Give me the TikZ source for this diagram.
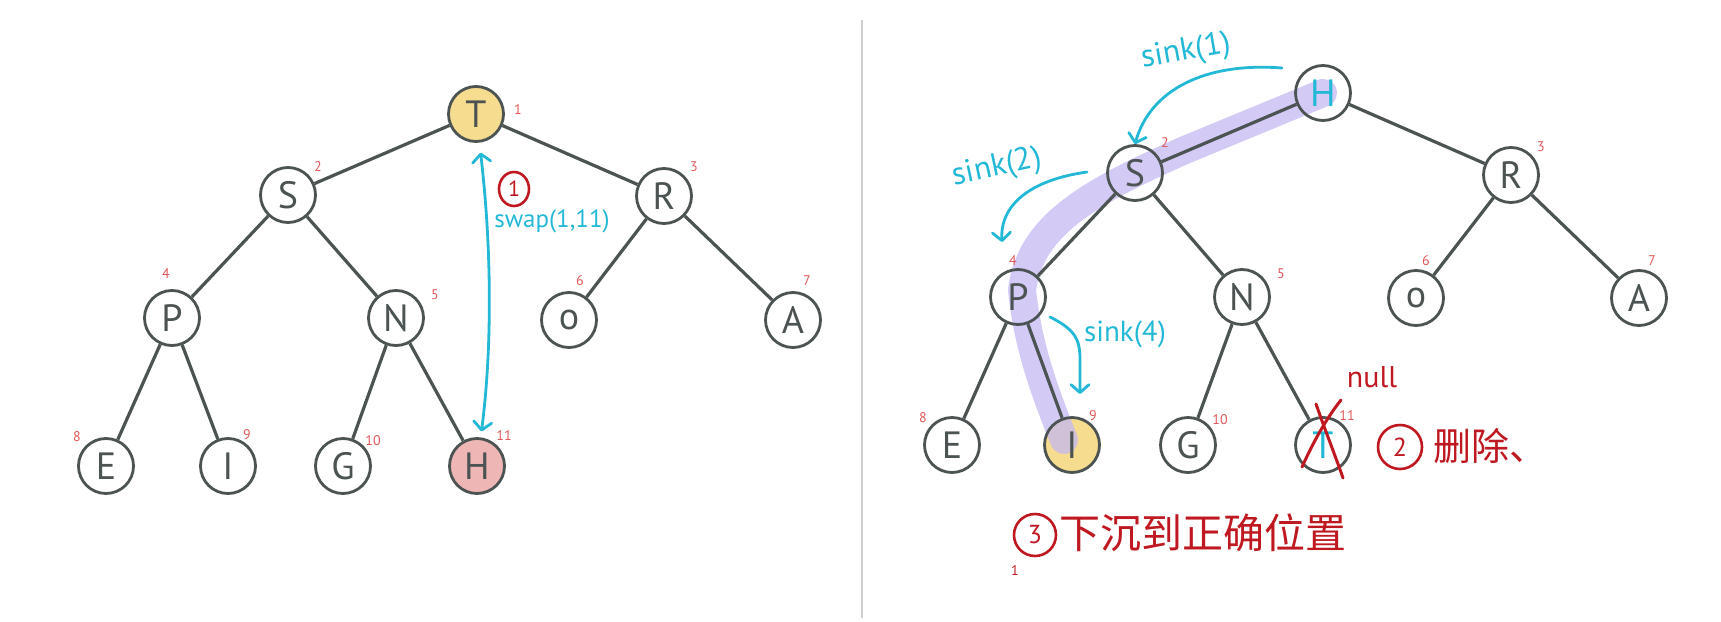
\documentclass[tikz,border=0pt]{standalone}
\usepackage{fontspec}
\setmainfont{PT Sans}
\newfontfamily\cjkfont{Noto Sans CJK SC}
\usetikzlibrary{arrows.meta,shapes.geometric}
\definecolor{inkgray}{RGB}{76,83,83}
\definecolor{hintcyan}{RGB}{34,184,214}
\definecolor{notered}{RGB}{192,24,32}
\definecolor{idxred}{RGB}{226,88,88}
\definecolor{noteyellow}{RGB}{246,220,142}
\definecolor{notepink}{RGB}{238,182,180}
\definecolor{lavender}{RGB}{196,184,242}
\definecolor{divgray}{RGB}{208,208,208}
\pgfdeclarelayer{under}
\pgfsetlayers{under,main}
\begin{document}
\begin{tikzpicture}[x=1pt,y=-1pt,
  heapnode/.style={circle,draw=inkgray,line width=2.8pt,minimum size=55pt,
    inner sep=0pt,text=inkgray,font=\fontsize{38}{38}\selectfont},
  tedge/.style={draw=inkgray,line width=3.2pt},
  idx/.style={text=idxred,inner sep=0pt,font=\fontsize{14}{14}\selectfont},
  hint/.style={draw=hintcyan,line width=2.8pt,line cap=round,
    -{Straight Barb[length=8pt,width=18pt,round]}},
  hinttext/.style={text=hintcyan,inner sep=0pt,font=\fontsize{32}{32}\selectfont},
  notetext/.style={text=notered,inner sep=0pt},
  ring/.style={draw=notered,line width=2.6pt},
  hl/.style={draw=lavender,line width=28pt,line cap=round,line join=round,opacity=0.75},
  divider/.style={draw=divgray,line width=2pt}
]
\useasboundingbox (0,0) rectangle (1721,621);

% separator between the two stages
\draw[divider] (862,20) -- (862,618);

% ---------- stage 1: swap root with last element ----------
\node[heapnode,fill=noteyellow] (lT) at (476,114) {T};
\node[heapnode] (lS) at (288,195) {S};
\node[heapnode] (lR) at (664,196) {R};
\node[heapnode] (lP) at (172,318) {P};
\node[heapnode] (lN) at (396,318) {N};
\node[heapnode] (lO) at (569,320) {o};
\node[heapnode] (lA) at (793,320) {A};
\node[heapnode] (lE) at (106,466) {E};
\node[heapnode] (lI) at (228,466) {I};
\node[heapnode] (lG) at (343,466) {G};
\node[heapnode,fill=notepink] (lH) at (477,466) {H};

\draw[tedge] (lT) -- (lS);
\draw[tedge] (lT) -- (lR);
\draw[tedge] (lS) -- (lP);
\draw[tedge] (lS) -- (lN);
\draw[tedge] (lR) -- (lO);
\draw[tedge] (lR) -- (lA);
\draw[tedge] (lP) -- (lE);
\draw[tedge] (lP) -- (lI);
\draw[tedge] (lN) -- (lG);
\draw[tedge] (lN) -- (lH);

\node[idx] (li1) at (518,110) {1};
\node[idx] (li2) at (318,167) {2};
\node[idx] (li3) at (694,167) {3};
\node[idx] (li4) at (166,274) {4};
\node[idx] (li5) at (435,295) {5};
\node[idx] (li6) at (580,281) {6};
\node[idx] (li7) at (807,281) {7};
\node[idx] (li8) at (77,437) {8};
\node[idx] (li9) at (247,435) {9};
\node[idx] (li10) at (373,441) {10};
\node[idx] (li11) at (504,436) {11};

% swap arrow
\draw[hint,{Straight Barb[length=8pt,width=18pt,round]}-{Straight Barb[length=8pt,width=18pt,round]},
  shorten <=10pt,shorten >=6pt]
  (lT) .. controls (492,250) and (492,350) .. (lH);
\node[ring,ellipse,minimum width=30pt,minimum height=34pt,inner sep=0pt,text=notered,
  font=\fontsize{22}{22}\selectfont] (c1) at (514,189) {1};
\node[hinttext,font=\fontsize{25}{25}\selectfont] (swapl) at (552,221) {swap(1,11)};

% ---------- stage 2: remove last element and sink the root ----------
\node[heapnode,text=hintcyan] (rH) at (1323,93) {H};
\node[heapnode] (rS) at (1135,173) {S};
\node[heapnode] (rR) at (1511,175) {R};
\node[heapnode] (rP) at (1018,297) {P};
\node[heapnode] (rN) at (1242,297) {N};
\node[heapnode] (rO) at (1416,298) {o};
\node[heapnode] (rA) at (1639,298) {A};
\node[heapnode] (rE) at (952,445) {E};
\node[heapnode] (rI) at (1072,445) {I};
\node[heapnode] (rG) at (1188,445) {G};
\node[heapnode,text=hintcyan] (rT) at (1323,445) {T};

% sink path highlight, under the node outlines
\begin{pgfonlayer}{under}
  \fill[noteyellow] (rI) circle (27.5);
  \draw[hl] (rH.center) -- (1185,150)
    .. controls (1090,192) and (1030,225) .. (1022,290)
    .. controls (1028,350) and (1048,400) .. (1064,440);
\end{pgfonlayer}

\draw[tedge] (rH) -- (rS);
\draw[tedge] (rH) -- (rR);
\draw[tedge] (rS) -- (rP);
\draw[tedge] (rS) -- (rN);
\draw[tedge] (rR) -- (rO);
\draw[tedge] (rR) -- (rA);
\draw[tedge] (rP) -- (rE);
\draw[tedge] (rP) -- (rI);
\draw[tedge] (rN) -- (rG);
\draw[tedge] (rN) -- (rT);

\node[idx] (ri2) at (1165,143) {2};
\node[idx] (ri3) at (1541,147) {3};
\node[idx] (ri4) at (1013,261) {4};
\node[idx] (ri5) at (1281,274) {5};
\node[idx] (ri6) at (1426,261) {6};
\node[idx] (ri7) at (1652,261) {7};
\node[idx] (ri8) at (923,418) {8};
\node[idx] (ri9) at (1093,416) {9};
\node[idx] (ri10) at (1220,420) {10};
\node[idx] (ri11) at (1347,416) {11};

% sink steps
\node[hinttext,rotate=10] (s1) at (1186,52) {sink(1)};
\coordinate (s1from) at (1282,68);
\draw[hint] (s1from) .. controls (1205,62) and (1150,90) .. (rS.north);

\node[hinttext,rotate=12] (s2) at (997,168) {sink(2)};
\coordinate (s2from) at (1087,172);
\coordinate (s2to) at (1002,242);
\draw[hint] (s2from) .. controls (1030,180) and (1000,205) .. (s2to);

\node[hinttext,font=\fontsize{29}{29}\selectfont] (s4) at (1125,334) {sink(4)};
\coordinate (s4from) at (1050,317);
\coordinate (s4to) at (1080,394);
\draw[hint] (s4from) .. controls (1076,330) and (1080,340) .. (1080,360) -- (s4to);

% removed element
\node[notetext,font=\fontsize{30}{30}\selectfont] (null) at (1372,377) {null};
\draw[notered,line width=3pt,line cap=round] (1316,404) .. controls (1325,430) and (1335,455) .. (1343,478);
\draw[notered,line width=3pt,line cap=round] (1341,400) .. controls (1325,420) and (1312,445) .. (1302,467);

\node[ring,circle,minimum size=44pt,inner sep=0pt,text=notered,
  font=\fontsize{26}{26}\selectfont] (c2) at (1400,447) {2};
\node[notetext,anchor=west,font=\cjkfont\fontsize{38}{38}\selectfont] (del) at (1433,446) {删除、};

\node[ring,circle,minimum size=42pt,inner sep=0pt,text=notered,
  font=\fontsize{26}{26}\selectfont] (c3) at (1035,535) {3};
\node[notetext,anchor=west,font=\cjkfont\fontsize{41}{41}\selectfont] (sinkmsg) at (1059,533) {下沉到正确位置};
\node[idx,text=notered] (lone) at (1015,571) {1};

\end{tikzpicture}
\end{document}
